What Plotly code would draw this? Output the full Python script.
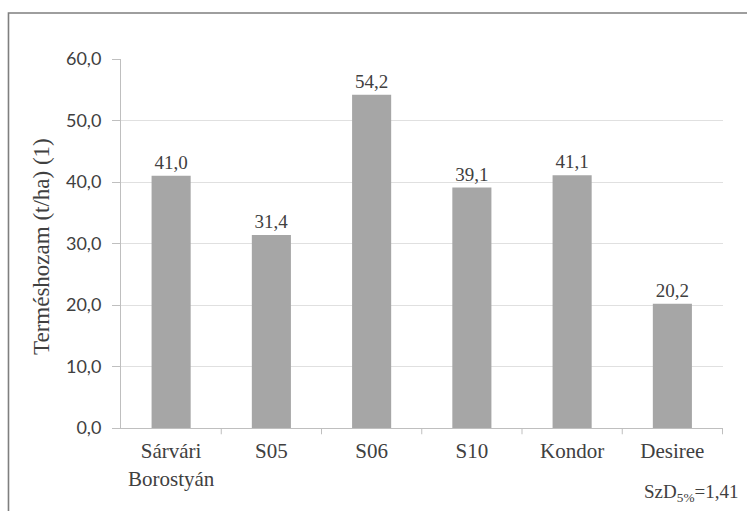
import plotly.graph_objects as go

# Yield per variety (t/ha)
varieties = ["Sárvári<br>Borostyán", "S05", "S06", "S10", "Kondor", "Desiree"]
yields = [41.0, 31.4, 54.2, 39.1, 41.1, 20.2]
y_ticks = [0, 10, 20, 30, 40, 50, 60]

serif = "Liberation Serif"
sans = "Lato"
text_col = "#404040"

fig = go.Figure()
fig.add_trace(go.Bar(
    x=varieties,
    y=yields,
    width=0.39,
    marker=dict(color="#a6a6a6", line=dict(width=0)),
    text=[f"{v:.1f}".replace(".", ",") for v in yields],
    textposition="outside",
    textfont=dict(family=serif, size=19, color=text_col),
    cliponaxis=False,
))

fig.update_layout(
    width=747, height=511,
    margin=dict(l=121, r=24, t=59, b=83),
    paper_bgcolor="white", plot_bgcolor="white",
    separators=", ",
    showlegend=False,
    bargap=0.6,
    xaxis=dict(
        showline=True, linecolor="#bfbfbf", linewidth=1,
        ticks="", showgrid=False, ticklabelstandoff=4,
        tickfont=dict(family=serif, size=21, color=text_col),
    ),
    yaxis=dict(
        range=[0, 60], tickvals=y_ticks, tickformat=".1f",
        showline=True, linecolor="#bfbfbf", linewidth=1,
        ticks="outside", ticklen=8, tickcolor="#bfbfbf",
        showgrid=True, gridcolor="#e0e0e0", gridwidth=1,
        zeroline=False, ticklabelstandoff=7,
        tickfont=dict(family=sans, size=18, color=text_col),
    ),
)

# Tick marks between categories on the x axis
for i in range(1, len(varieties) + 1):
    fig.add_shape(type="line", xref="x", yref="paper",
                  x0=i - 0.5, x1=i - 0.5, y0=0, y1=-0.017,
                  line=dict(color="#bfbfbf", width=1))

# Y axis title
fig.add_annotation(text="Terméshozam (t/ha) (1)", xref="paper", yref="paper",
                   x=-0.133, y=0.493, xanchor="center", yanchor="middle",
                   textangle=-90, showarrow=False,
                   font=dict(family=serif, size=23, color=text_col))

# Least significant difference note
fig.add_annotation(text="SzD<sub>5%</sub>=1,41", xref="paper", yref="paper",
                   x=0.947, y=-0.176, xanchor="center", yanchor="middle",
                   showarrow=False,
                   font=dict(family=serif, size=19, color=text_col))

# Outer frame of the chart
fig.add_shape(type="rect", xref="paper", yref="paper",
              x0=-0.1869, x1=1.08, y0=-0.3, y1=1.1247,
              line=dict(color="#7f7f7f", width=1.6), layer="above")

fig.write_html("out.html")
